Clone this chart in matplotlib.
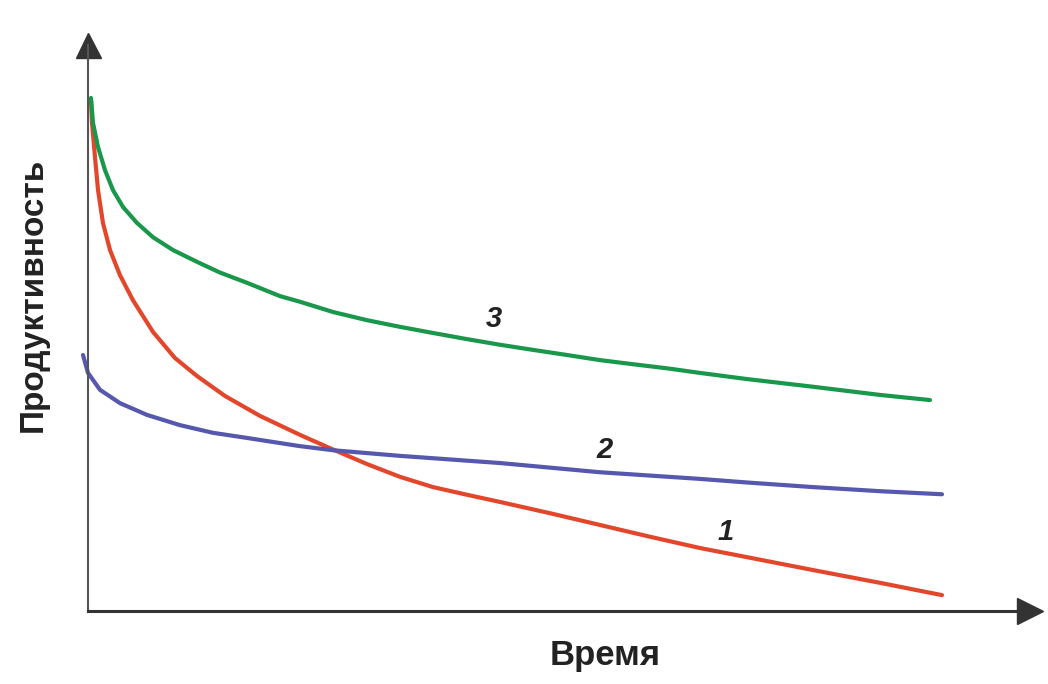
import matplotlib
matplotlib.use("Agg")
import matplotlib.pyplot as plt

# Curve 1 (red) - productivity falls fast
t1 = [0.035, 0.047, 0.082, 0.118, 0.176, 0.259, 0.376, 0.529, 0.765, 1.024,
      1.282, 1.612, 2.024, 2.494, 2.847, 3.282, 3.671, 4.059, 4.459, 4.847,
      5.435, 6.024, 6.612, 7.2, 7.788, 8.529, 9.318, 10.047]
p1 = [99.8, 95.3, 88.7, 82.2, 75.8, 70.5, 65.6, 60.7, 54.5, 49.4,
      45.9, 42.0, 38.1, 34.4, 31.8, 28.7, 26.2, 24.2, 22.7, 21.3,
      19.1, 16.8, 14.5, 12.3, 10.4, 8.0, 5.5, 3.1]

# Curve 2 (blue) - lower start, slow decline
t2 = [-0.059, 0.0, 0.141, 0.376, 0.694, 1.082, 1.471, 1.871, 2.259, 2.494,
      2.882, 3.671, 4.847, 6.024, 7.2, 7.753, 8.529, 9.318, 10.047]
p2 = [50.0, 46.5, 43.2, 40.6, 38.3, 36.3, 34.8, 33.8, 32.8, 32.2,
      31.4, 30.3, 28.9, 27.1, 25.8, 25.1, 24.2, 23.4, 22.8]

# Curve 3 (green) - high start, slow decline
t3 = [0.035, 0.059, 0.118, 0.2, 0.294, 0.412, 0.576, 0.765, 1.0, 1.282,
      1.553, 1.871, 2.259, 2.494, 2.882, 3.282, 3.671, 4.059, 4.459, 4.847,
      5.235, 5.635, 6.024, 6.412, 6.812, 7.2, 7.753, 8.529, 9.318, 9.906]
p3 = [100.2, 95.3, 90.6, 86.1, 82.2, 78.9, 75.8, 73.0, 70.5, 68.2,
      66.1, 64.1, 61.5, 60.4, 58.4, 56.8, 55.5, 54.3, 53.1, 52.0,
      51.0, 50.0, 49.0, 48.2, 47.4, 46.5, 45.3, 43.8, 42.2, 41.2]

curve_labels = ["1", "2", "3"]
label_pos = [(7.5, 15.4), (6.08, 31.4), (4.78, 57.0)]

W, H = 1048, 684
fig = plt.figure(figsize=(W / 100, H / 100), dpi=100)
ax = fig.add_axes([88 / W, (H - 611) / H, (1030 - 88) / W, (611 - 45) / H])
ax.set_xlim(0, (1030 - 88) / 85)
ax.set_ylim(0, (611 - 45) / 5.12)

style = dict(lw=3, solid_capstyle="round", solid_joinstyle="round", clip_on=False)
ax.plot(t1, p1, color="#e2472c", **style)
ax.plot(t2, p2, color="#5558ad", **style)
ax.plot(t3, p3, color="#19974b", **style)

for lab, (x, y) in zip(curve_labels, label_pos):
    ax.text(x, y, lab, fontsize=21, fontweight="bold", style="italic",
            family=["Liberation Sans", "DejaVu Sans"],
            color="#222222", ha="center", va="center")

# axes with arrows
for s in ["top", "right"]:
    ax.spines[s].set_visible(False)
ax.spines["left"].set_color("#555555")
ax.spines["left"].set_linewidth(1.5)
ax.spines["bottom"].set_color("#333333")
ax.spines["bottom"].set_linewidth(2.2)
ax.plot([0], [1], marker="^", markersize=18, color="#333333",
        transform=ax.transAxes, clip_on=False)
ax.plot([1], [0], marker=">", markersize=19, color="#333333",
        transform=ax.transAxes, clip_on=False)
ax.set_xticks([])
ax.set_yticks([])

font = ["Liberation Sans", "DejaVu Sans"]
fig.text(605 / W, 1 - 656 / H, "Время", family=font, fontsize=25,
         fontweight="bold", color="#222222", ha="center", va="center")
fig.text(33 / W, 1 - 295 / H, "Продуктивность", family=font, fontsize=24,
         fontweight="bold", color="#222222", ha="center", va="center",
         rotation=90)

fig.savefig("out.png", dpi=100, facecolor="white")
